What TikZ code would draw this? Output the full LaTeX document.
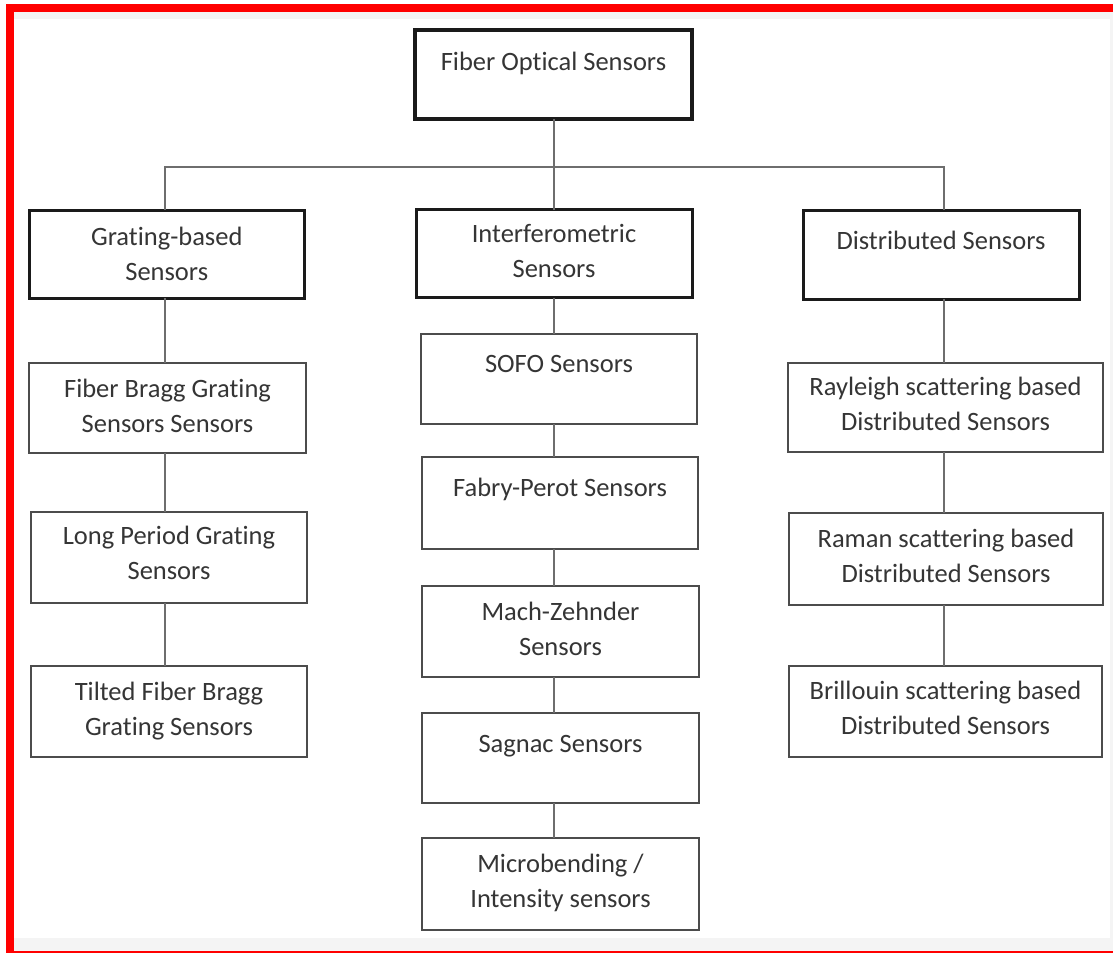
\documentclass[tikz,border=0pt]{standalone}
\usepackage{fontspec}
\setmainfont{Carlito}[Ligatures={NoCommon,NoRare,NoContextual},Contextuals=NoAlternate]
\definecolor{txt}{HTML}{353535}
\definecolor{dark}{HTML}{1A1A1A}
\definecolor{boxgray}{HTML}{4C4C4C}
\definecolor{linegray}{HTML}{6E6E6E}
\definecolor{bggray}{HTML}{F4F4F4}
\definecolor{redframe}{HTML}{FF0000}
\newcommand{\bt}[4]{\parbox[c][#2pt][t]{#1pt}{\centering\rule{0pt}{#3pt}#4\par}}
\tikzset{
  base/.style={inner sep=0pt, outer sep=0pt, text=txt, font=\fontsize{26.5}{35}\selectfont},
  thinbox/.style={base, draw=boxgray, line width=1.6pt},
  midbox/.style={base, draw=dark, line width=3pt},
  thickbox/.style={base, draw=dark, line width=4.2pt},
  conn/.style={draw=linegray, line width=1.8pt}
}
\begin{document}
\begin{tikzpicture}[x=1pt,y=-1pt]
\useasboundingbox (0,0) rectangle (1113,953);
% frame and background
\fill[white] (0,0) rectangle (1113,953);
\fill[bggray] (14,12) rectangle (1113,951);
\fill[white] (14,19) rectangle (1110,938);
\fill[redframe] (6,4) rectangle (1113,12);
\fill[redframe] (6,4) rectangle (14,953);
\fill[redframe] (14,950.8) rectangle (1113,952.6);

% nodes
\node[thickbox] (top) at (553.5,74.5) {\bt{277}{89}{40}{Fiber Optical Sensors}};
\node[midbox] (grating) at (166.75,254) {\bt{275.5}{88}{35}{Grating-based\\Sensors}};
\node[midbox] (interf) at (554,253.5) {\bt{276}{88}{33}{Interferometric\\Sensors}};
\node[midbox] (distr) at (941,254.5) {\bt{276}{89}{39}{Distributed Sensors}};

\node[thinbox] (fbg) at (167.5,408) {\bt{277}{90}{34}{Fiber Bragg Grating\\Sensors Sensors}};
\node[thinbox] (lpg) at (169,557.5) {\bt{276}{91}{32}{Long Period Grating\\Sensors}};
\node[thinbox] (tfbg) at (169,711.5) {\bt{276}{91}{34}{Tilted Fiber Bragg\\Grating Sensors}};

\node[thinbox] (sofo) at (559,379) {\bt{276}{90}{38}{SOFO Sensors}};
\node[thinbox] (fabry) at (560,503) {\bt{276}{92}{39}{Fabry-Perot Sensors}};
\node[thinbox] (mach) at (560.5,631.5) {\bt{277}{91}{34}{Mach-Zehnder\\Sensors}};
\node[thinbox] (sagnac) at (560.5,758) {\bt{277}{90}{39}{Sagnac Sensors}};
\node[thinbox] (micro) at (560.5,884) {\bt{277}{92}{34}{Microbending /\\Intensity sensors}};

\node[thinbox] (rayleigh) at (945.5,407.5) {\bt{315}{89}{32}{Rayleigh scattering based\\Distributed Sensors}};
\node[thinbox] (raman) at (946,559) {\bt{314}{92}{34}{Raman scattering based\\Distributed Sensors}};
\node[thinbox] (brill) at (945.5,711.5) {\bt{313}{91}{33}{Brillouin scattering based\\Distributed Sensors}};

% bus coordinates
\coordinate (lx) at (165,167);
\coordinate (mx) at (554,167);
\coordinate (rx) at (944,167);

% connectors
\draw[conn] (top.south -| mx) -- (interf.north -| mx);
\draw[conn] (grating.north -| lx) -- (lx) -- (rx) -- (distr.north -| rx);

\draw[conn] (grating.south -| lx) -- (fbg.north -| lx);
\draw[conn] (fbg.south -| lx) -- (lpg.north -| lx);
\draw[conn] (lpg.south -| lx) -- (tfbg.north -| lx);

\draw[conn] (interf.south -| mx) -- (sofo.north -| mx);
\draw[conn] (sofo.south -| mx) -- (fabry.north -| mx);
\draw[conn] (fabry.south -| mx) -- (mach.north -| mx);
\draw[conn] (mach.south -| mx) -- (sagnac.north -| mx);
\draw[conn] (sagnac.south -| mx) -- (micro.north -| mx);

\draw[conn] (distr.south -| rx) -- (rayleigh.north -| rx);
\draw[conn] (rayleigh.south -| rx) -- (raman.north -| rx);
\draw[conn] (raman.south -| rx) -- (brill.north -| rx);
\end{tikzpicture}
\end{document}
